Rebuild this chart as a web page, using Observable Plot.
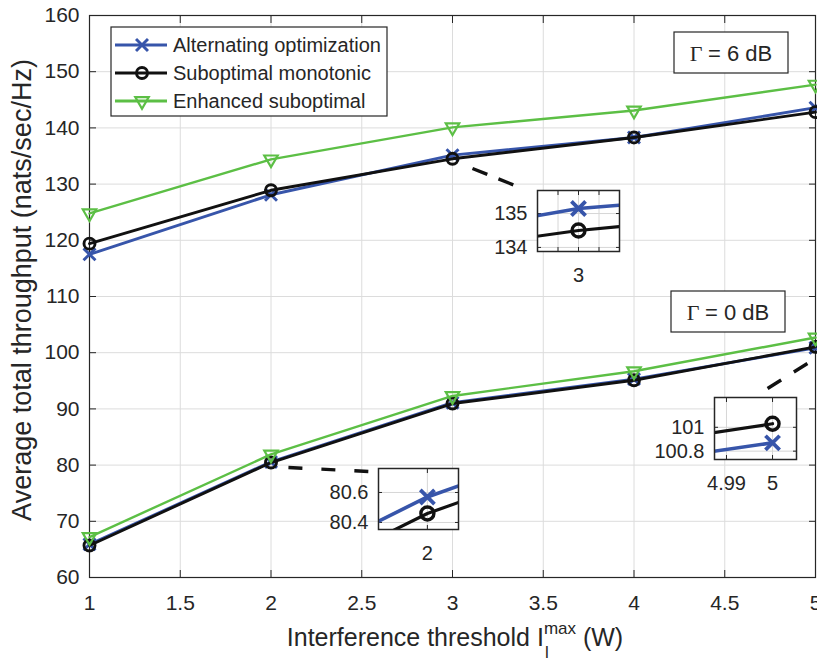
<!DOCTYPE html>
<html><head><meta charset="utf-8">
<script src="https://cdn.jsdelivr.net/npm/d3@7"></script>
<script src="https://cdn.jsdelivr.net/npm/@observablehq/plot@0.6"></script>
<style>
body{margin:0;background:#fff;}
#wrap{position:relative;width:817px;height:661px;overflow:hidden;background:#fff;font-family:"Liberation Sans",Arial,sans-serif;}
#wrap > svg{position:absolute;background:transparent;}
</style></head><body><div id="wrap"></div>
<script>
// ---------------- data ----------------
const xValues = [1, 2, 3, 4, 5];
// Gamma = 6 dB
const ao6 = [117.5, 128.1, 135.15, 138.3, 143.6];
const sm6 = [119.4, 128.9, 134.5, 138.3, 142.8];
const es6 = [124.8, 134.4, 140.1, 143.1, 147.7];
// Gamma = 0 dB
const ao0 = [65.9, 80.57, 91.1, 95.3, 100.87];
const sm0 = [65.7, 80.46, 90.95, 95.1, 101.03];
const es0 = [67.2, 81.9, 92.3, 96.7, 102.7];

const seriesNames = ["Alternating optimization", "Suboptimal monotonic", "Enhanced suboptimal"];
const seriesColors = ["#3755aa", "#111111", "#5cbf45"];
const xTicks = [1, 1.5, 2, 2.5, 3, 3.5, 4, 4.5, 5];
const yTicks = [60, 70, 80, 90, 100, 110, 120, 130, 140, 150, 160];
const gammaLabels = ["= 6 dB", "= 0 dB"];
const xLabelText = ["Interference threshold I", "max", "l", " (W)"];
const yLabelText = "Average total throughput (nats/sec/Hz)";

// inset zoom windows
const insets = [
  {xDomain: [2.97, 3.03], yDomain: [133.88, 135.68], xGrid: [2.985, 3, 3.015], xTickLabels: [3], yTickLabels: [134, 135], box: [537, 190, 82, 61]},
  {xDomain: [1.989, 2.007], yDomain: [80.353, 80.76], xGrid: [2], xTickLabels: [2], yTickLabels: [80.4, 80.6], box: [378, 468, 80, 61]},
  {xDomain: [4.9874, 5.0052], yDomain: [100.73, 101.25], xGrid: [4.99, 5], xTickLabels: [4.99, 5], yTickLabels: [100.8, 101], box: [714, 397, 82, 62]}
];
// dashed leader lines (data coordinates of main chart)
const leaders = [
  {x1: 3.11, y1: 132.78, x2: 3.358, y2: 129.57, dash: "16,12"},
  {x1: 2.096, y1: 79.57, x2: 2.537, y2: 78.86, dash: "14,19"},
  {x1: 4.736, y1: 93.63, x2: 4.956, y2: 98.08, dash: "16,15"}
];

const rows = (vals, s) => xValues.map((x, i) => ({x, y: vals[i], s}));
const seriesData = [
  rows(ao6, 0), rows(ao0, 0),
  rows(sm6, 1), rows(sm0, 1),
  rows(es6, 2), rows(es0, 2)
];

const FONT = "Liberation Sans, Arial, Helvetica, sans-serif";
const TXT = "#262626";

const triangleDown = {
  draw(ctx, size) {
    const a = Math.sqrt(4 * size / Math.sqrt(3));
    const h = a * Math.sqrt(3) / 2;
    ctx.moveTo(-a / 2, -h / 3);
    ctx.lineTo(a / 2, -h / 3);
    ctx.lineTo(0, 2 * h / 3);
    ctx.closePath();
  }
};
const symbols = ["times", "circle", triangleDown];

function seriesMarks(list, lw, r, mw, clip) {
  const marks = [];
  list.forEach(d => {
    const s = d[0].s;
    marks.push(Plot.line(d, {x: "x", y: "y", stroke: seriesColors[s], strokeWidth: lw[s], clip}));
    marks.push(Plot.dot(d, {x: "x", y: "y", symbol: symbols[s], r: r[s], stroke: seriesColors[s], fill: "none", strokeWidth: mw[s], clip}));
  });
  return marks;
}

const wrap = document.getElementById("wrap");

// ---------------- main chart ----------------
const blank = () => "";
const TF = 21;
const main = Plot.plot({
  width: 817, height: 661,
  marginLeft: 89, marginRight: 2, marginTop: 15, marginBottom: 84,
  x: {domain: [1, 5]},
  y: {domain: [60, 160]},
  style: {fontFamily: FONT, fontSize: TF + "px", color: TXT, background: "transparent"},
  marks: [
    Plot.gridX(xTicks, {stroke: "#dcdcdc", strokeOpacity: 1}),
    Plot.gridY(yTicks, {stroke: "#dcdcdc", strokeOpacity: 1}),
    Plot.axisX(xTicks, {tickSize: 0, tickPadding: 18, label: null, tickFormat: d => String(d), fill: TXT, fontSize: TF}),
    Plot.axisX(xTicks, {tickSize: -7, tickFormat: blank, label: null, stroke: TXT}),
    Plot.axisX(xTicks, {anchor: "top", tickSize: -7, tickFormat: blank, label: null, stroke: TXT}),
    Plot.axisY(yTicks, {tickSize: 0, tickPadding: 10, label: null, tickFormat: d => String(d), fill: TXT, fontSize: TF}),
    Plot.axisY(yTicks, {tickSize: -7, tickFormat: blank, label: null, stroke: TXT}),
    Plot.axisY(yTicks, {anchor: "right", tickSize: -7, tickFormat: blank, label: null, stroke: TXT}),
    Plot.frame({stroke: TXT, strokeWidth: 1.2}),
    ...seriesMarks(seriesData, [2.9, 2.9, 2.4], [5.5, 5.5, 5], [2.9, 2.9, 2.2], false),
    ...leaders.map(l => Plot.link([l], {x1: "x1", y1: "y1", x2: "x2", y2: "y2", stroke: "#111", strokeWidth: 3.4, strokeDasharray: l.dash}))
  ]
});
main.style.left = "0px"; main.style.top = "0px";
wrap.appendChild(main);

const svg = d3.select(main);
// y label
svg.append("text")
  .attr("transform", "translate(22,290) rotate(-90)")
  .attr("text-anchor", "middle").attr("dominant-baseline", "central")
  .attr("font-family", FONT).attr("font-size", 27).attr("fill", TXT)
  .text(yLabelText);
// x label with super/subscript
const xl = svg.append("text").attr("font-family", FONT).attr("font-size", 25).attr("fill", TXT)
  .attr("text-anchor", "start").attr("y", 646);
const t1 = xl.append("tspan").text(xLabelText[0]);
xl.append("tspan").attr("font-size", 17).attr("dy", -12).text(xLabelText[1]);
xl.append("tspan").attr("dy", 12).text(xLabelText[3]);
const w1 = t1.node().getComputedTextLength();
const wTot = xl.node().getComputedTextLength();
const xStart = 455 - wTot / 2;
xl.attr("x", xStart);
svg.append("text").attr("font-family", FONT).attr("font-size", 17).attr("fill", TXT).attr("text-anchor", "start")
  .attr("x", xStart + w1 + 1).attr("y", 658).text(xLabelText[2]);

// legend
const lg = svg.append("g");
lg.append("rect").attr("x", 111).attr("y", 27).attr("width", 276).attr("height", 89)
  .attr("fill", "#fff").attr("stroke", TXT).attr("stroke-width", 1.2);
seriesNames.forEach((name, i) => {
  const yy = 45 + i * 28;
  lg.append("line").attr("x1", 115).attr("x2", 167).attr("y1", yy).attr("y2", yy)
    .attr("stroke", seriesColors[i]).attr("stroke-width", 2.9);
  const sym = i === 0 ? d3.symbolTimes : i === 1 ? d3.symbolCircle : triangleDown;
  const r = i === 2 ? 5 : 5.5;
  lg.append("path").attr("d", d3.symbol(sym, Math.PI * r * r)()).attr("transform", `translate(142,${yy})`)
    .attr("fill", "none").attr("stroke", seriesColors[i]).attr("stroke-width", i === 2 ? 2.2 : 2.9);
  lg.append("text").attr("x", 173).attr("y", yy).attr("dominant-baseline", "central").attr("text-anchor", "start")
    .attr("font-family", FONT).attr("font-size", 20).attr("fill", TXT).text(name);
});

// gamma boxes
[[674, 32], [671, 291]].forEach(([bx, by], i) => {
  svg.append("rect").attr("x", bx).attr("y", by).attr("width", 114).attr("height", 41)
    .attr("fill", "#fff").attr("stroke", TXT).attr("stroke-width", 1.2);
  const t = svg.append("text").attr("x", bx + 57).attr("y", by + 21).attr("text-anchor", "middle")
    .attr("dominant-baseline", "central").attr("font-size", 22).attr("fill", TXT);
  t.append("tspan").attr("font-family", "Liberation Serif, Times New Roman, serif").text("Γ ");
  t.append("tspan").attr("font-family", FONT).text(gammaLabels[i]);
});

// ---------------- insets ----------------
const IF = 20;
insets.forEach(ins => {
  const [bx, by, bw, bh] = ins.box;
  const mL = 80, mB = 44, mT = 2, mR = 2;
  const p = Plot.plot({
    width: bw + mL + mR, height: bh + mT + mB,
    marginLeft: mL, marginRight: mR, marginTop: mT, marginBottom: mB,
    x: {domain: ins.xDomain},
    y: {domain: ins.yDomain},
    style: {fontFamily: FONT, fontSize: IF + "px", color: TXT, background: "transparent", overflow: "visible"},
    marks: [
      Plot.frame({fill: "#fff", stroke: "none"}),
      Plot.gridX(ins.xGrid, {stroke: "#d6d6d6", strokeOpacity: 1}),
      Plot.gridY(ins.yTickLabels, {stroke: "#d6d6d6", strokeOpacity: 1}),
      Plot.axisX(ins.xTickLabels, {tickSize: 0, tickPadding: 16, label: null, tickFormat: d => String(d), fill: TXT, fontSize: IF}),
      Plot.axisY(ins.yTickLabels, {tickSize: 0, tickPadding: 10, label: null, tickFormat: d => String(d), fill: TXT, fontSize: IF}),
      Plot.axisX(ins.xGrid, {tickSize: -4, tickFormat: blank, label: null, stroke: TXT}),
      Plot.axisX(ins.xGrid, {anchor: "top", tickSize: -4, tickFormat: blank, label: null, stroke: TXT}),
      Plot.axisY(ins.yTickLabels, {tickSize: -4, tickFormat: blank, label: null, stroke: TXT}),
      Plot.axisY(ins.yTickLabels, {anchor: "right", tickSize: -4, tickFormat: blank, label: null, stroke: TXT}),
      ...seriesMarks(seriesData.slice(0, 4), [3.6, 3.2, 3], [6.5, 6.5, 6], [3.8, 3.4, 3], true),
      Plot.frame({stroke: TXT, strokeWidth: 1.5})
    ]
  });
  p.style.left = (bx - mL) + "px";
  p.style.top = (by - mT) + "px";
  wrap.appendChild(p);
});
</script>
</body></html>
